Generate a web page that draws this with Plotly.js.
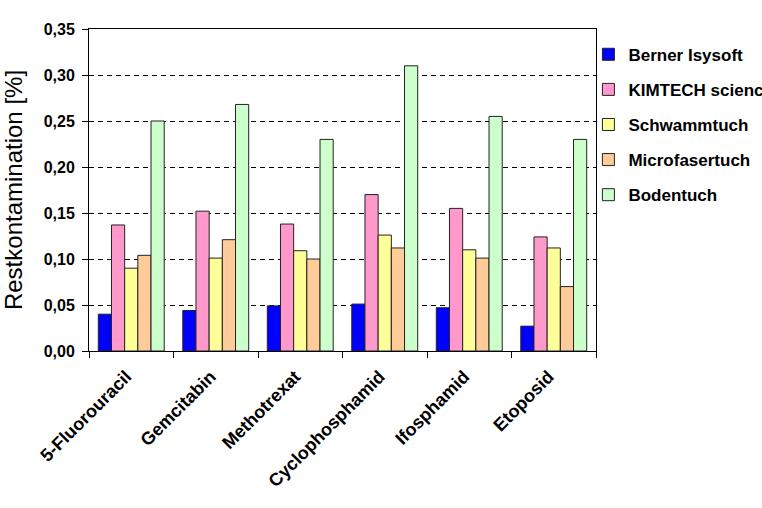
<!DOCTYPE html>
<html><head><meta charset="utf-8">
<script src="https://cdn.plot.ly/plotly-3.0.1.min.js"></script>
<style>body{margin:0;background:#fff}#c{width:762px;height:508px}</style>
</head><body><div id="c"></div>
<script>
const categories = ["5-Fluorouracil","Gemcitabin","Methotrexat","Cyclophosphamid","Ifosphamid","Etoposid"];
const bernerIsysoft = [0.040,0.044,0.049,0.051,0.047,0.027];
const kimtechScience = [0.137,0.152,0.138,0.170,0.155,0.124];
const schwammtuch = [0.090,0.101,0.109,0.126,0.110,0.112];
const microfasertuch = [0.104,0.121,0.100,0.112,0.101,0.070];
const bodentuch = [0.250,0.268,0.230,0.310,0.255,0.230];
const seriesNames = ["Berner Isysoft","KIMTECH science","Schwammtuch","Microfasertuch","Bodentuch"];
const yTicks = [0,0.05,0.10,0.15,0.20,0.25,0.30,0.35];

const FONT = "Liberation Sans, Arial, sans-serif";
const colors = ["#0000ff","#ff99cc","#ffff99","#ffcc99","#ccffcc"];
const data = [bernerIsysoft,kimtechScience,schwammtuch,microfasertuch,bodentuch].map((v,i)=>({
  type:"bar", x:categories, y:v, name:seriesNames[i], legendgroup:"g"+i,
  marker:{color:colors[i], line:{color:"#222", width:1}}
}));
const layout = {
  width:762, height:508,
  margin:{l:89, r:166, t:29, b:157, pad:0, autoexpand:false},
  paper_bgcolor:"#fff", plot_bgcolor:"#fff",
  separators:",.",
  font:{family:FONT, color:"#000"},
  barmode:"group", bargap:0.22, bargroupgap:0,
  showlegend:true,
  legend:{x:0.985, y:0.976, xanchor:"left", yanchor:"top", traceorder:"grouped", tracegroupgap:10,
    font:{size:17, family:FONT, weight:"bold", color:"#000"},
    bgcolor:"rgba(0,0,0,0)"},
  xaxis:{type:"category", showline:true, linecolor:"#000", linewidth:1, mirror:true,
    ticks:"outside", tickson:"boundaries", ticklen:6, tickcolor:"#000", tickangle:-45,
    ticklabelstandoff:7, ticklabelshift:-5,
    tickfont:{size:18, weight:"bold", family:FONT}, showgrid:false},
  yaxis:{range:[0,0.35], tickvals:yTicks, tickformat:".2f", showline:true, linecolor:"#000", linewidth:1, mirror:true,
    ticks:"outside", ticklen:6, tickcolor:"#000", ticklabelstandoff:4,
    showgrid:true, gridcolor:"#000", griddash:"5px,4px", gridwidth:1, zeroline:false,
    tickfont:{size:16, weight:"bold", family:FONT},
    title:{text:"Restkontamination [%]", font:{size:24, family:FONT}, standoff:14}}
};
Plotly.newPlot("c", data, layout, {displayModeBar:false, staticPlot:true});
</script></body></html>
